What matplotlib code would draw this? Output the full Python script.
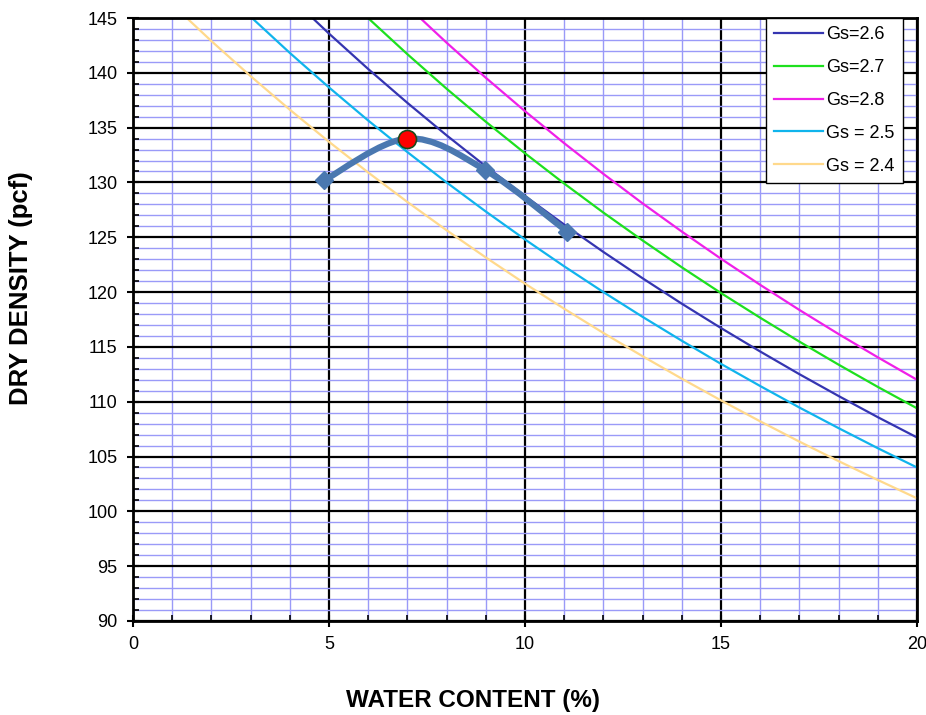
import numpy as np
import matplotlib.pyplot as plt
from matplotlib.path import Path
from matplotlib.patches import PathPatch
from matplotlib.ticker import MultipleLocator

plt.rcParams['font.family'] = ['Liberation Sans', 'DejaVu Sans']

# Zero-air-voids curves (dry density, pcf, at water contents 0..20 %)
water = [0, 1, 2, 3, 4, 5, 6, 7, 8, 9, 10, 11, 12, 13, 14, 15, 16, 17, 18, 19, 20]
gs_26 = [162.24, 158.13, 154.22, 150.50, 146.96, 143.58, 140.35, 137.26, 134.30, 131.47, 128.76,
         126.16, 123.66, 121.26, 118.94, 116.72, 114.58, 112.51, 110.52, 108.59, 106.74]
gs_27 = [168.48, 164.05, 159.85, 155.86, 152.06, 148.44, 144.99, 141.70, 138.55, 135.54, 132.66,
         129.90, 127.25, 124.71, 122.26, 119.91, 117.66, 115.48, 113.38, 111.35, 109.40]
gs_28 = [174.72, 169.96, 165.45, 161.18, 157.12, 153.26, 149.59, 146.09, 142.75, 139.55, 136.50,
         133.58, 130.78, 128.09, 125.52, 123.04, 120.66, 118.37, 116.17, 114.05, 112.00]
gs_25 = [156.00, 152.20, 148.57, 145.12, 141.82, 138.67, 135.65, 132.77, 130.00, 127.35, 124.80,
         122.35, 120.00, 117.74, 115.56, 113.45, 111.43, 109.47, 107.59, 105.76, 104.00]
gs_24 = [149.76, 146.25, 142.90, 139.70, 136.64, 133.71, 130.91, 128.22, 125.64, 123.16, 120.77,
         118.48, 116.27, 114.15, 112.10, 110.12, 108.21, 106.36, 104.58, 102.86, 101.19]

# Proctor test points
test_w = [4.88, 7.0, 8.98, 11.08]
test_dd = [130.2, 134.0, 131.15, 125.5]
marker_idx = [0, 2, 3]
opt_w, opt_dd = 7.0, 134.0

fig = plt.figure(figsize=(9.26, 7.15), dpi=100)
ax = fig.add_axes([0.1436, 0.1315, 0.8467, 0.8433])

series = [
    (gs_26, '#3535B0', 'Gs=2.6'),
    (gs_27, '#1EE01E', 'Gs=2.7'),
    (gs_28, '#F020E8', 'Gs=2.8'),
    (gs_25, '#10B4EC', 'Gs = 2.5'),
    (gs_24, '#FFD98C', 'Gs = 2.4'),
]
for y, c, lab in series:
    ax.plot(water, y, color=c, lw=1.6, label=lab, zorder=3)

# smoothed compaction curve (Catmull-Rom style Bezier, like a spreadsheet smooth line)
pts = np.column_stack([test_w, test_dd])
verts = [pts[0]]
codes = [Path.MOVETO]
for i in range(len(pts) - 1):
    p0 = pts[i - 1] if i > 0 else pts[i]
    p1, p2 = pts[i], pts[i + 1]
    p3 = pts[i + 2] if i + 2 < len(pts) else pts[i + 1]
    c1 = p1 + (p2 - p0) / 6
    c2 = p2 - (p3 - p1) / 6
    verts += [c1, c2, p2]
    codes += [Path.CURVE4] * 3
ax.add_patch(PathPatch(Path(verts, codes), fill=False, edgecolor='#4A78B0', lw=4.5,
                       capstyle='round', zorder=4))
ax.plot([test_w[i] for i in marker_idx], [test_dd[i] for i in marker_idx], ls='none',
        marker='D', ms=9.5, color='#4A78B0', zorder=5)
ax.plot([opt_w], [opt_dd], 'o', ms=13, mfc='#FF0000', mec='#1A4A1A', mew=1.2, zorder=6)

ax.set_xlim(0, 20)
ax.set_ylim(90, 145)
ax.xaxis.set_major_locator(MultipleLocator(5))
ax.xaxis.set_minor_locator(MultipleLocator(1))
ax.yaxis.set_major_locator(MultipleLocator(5))
ax.yaxis.set_minor_locator(MultipleLocator(1))
ax.grid(which='minor', color='#9A9AF8', lw=1.0, zorder=1)
ax.grid(which='major', color='black', lw=1.6, zorder=2)
ax.set_axisbelow(True)
ax.tick_params(which='major', direction='inout', length=8, width=1.5, labelsize=13, pad=7)
ax.tick_params(which='minor', direction='in', length=4, width=1.2)
for s in ax.spines.values():
    s.set_linewidth(2)
    s.set_zorder(7)

fig.text(473 / 926, 1 - 707 / 715, 'WATER CONTENT (%)', fontsize=17.5, fontweight='bold',
         ha='center', va='baseline')
fig.text(21 / 926, 1 - 288 / 715, 'DRY DENSITY (pcf)', fontsize=18.5, fontweight='bold',
         ha='center', va='center', rotation=90)

leg = ax.legend(loc='upper right', bbox_to_anchor=(0.982, 1.0), fontsize=13, frameon=True,
                fancybox=False, edgecolor='black', framealpha=1, borderpad=0.45,
                labelspacing=0.88, handlelength=2.7, handletextpad=0.2, borderaxespad=0)
leg.get_frame().set_linewidth(1.0)
leg.set_zorder(8)

fig.savefig('out.png', dpi=100)
